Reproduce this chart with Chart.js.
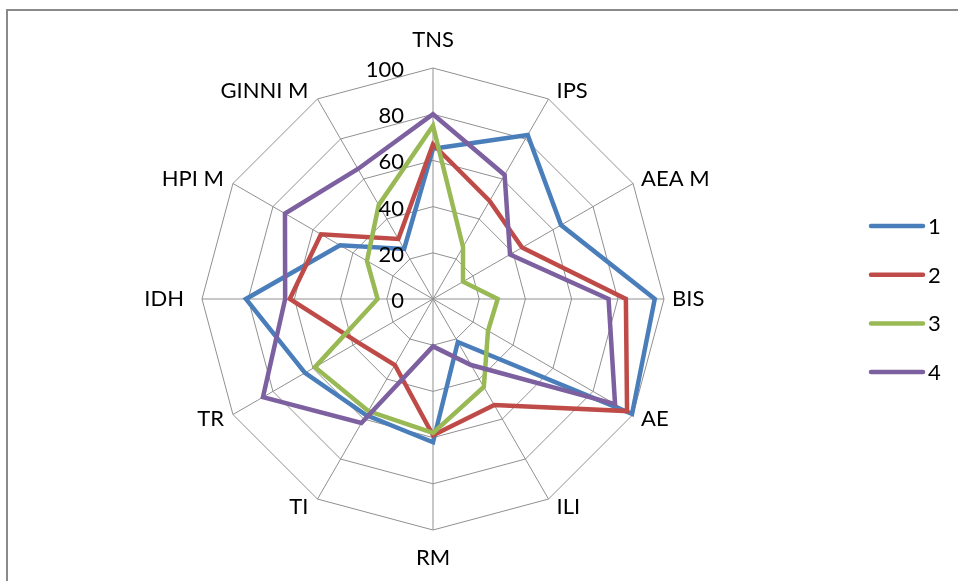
<!DOCTYPE html>
<html>
<head>
<meta charset="utf-8">
<script src="https://cdn.jsdelivr.net/npm/chart.js@4"></script>
<style>
  body { margin: 0; background: #fff; }
  #wrap { position: relative; width: 958px; height: 581px; }
</style>
</head>
<body>
<div id="wrap"><canvas id="radarChart"></canvas></div>
<script>
const axisLabels = ['TNS', 'IPS', 'AEA M', 'BIS', 'AE', 'ILI', 'RM', 'TI', 'TR', 'IDH', 'HPI M', 'GINNI M']
const seriesNames = ['1', '2', '3', '4']
const series1 = [65, 82, 64, 96, 99.5, 21.5, 62, 58, 64, 81, 46.5, 25]
const series2 = [67, 49, 44.5, 83.5, 97, 53, 59, 33, 37.5, 62, 56, 30]
const series3 = [75, 26, 15, 28, 27.5, 44, 58, 56, 59, 24, 33, 47]
const series4 = [80, 62, 38.5, 76, 91, 33, 20.5, 62, 85, 64, 74, 65]
const tickValues = [0, 20, 40, 60, 80, 100]

const colors = ['#4A7EBB', '#BE4B48', '#98B954', '#7D60A0']
const FONT = '22px Lato, "Open Sans", sans-serif'

// excel-ish labels, frame and legend drawn by hand
const excelBits = {
    id: 'excelBits',
    beforeDraw(chart) {
        const ctx = chart.ctx
        ctx.save()
        ctx.strokeStyle = '#8a8a8a'
        ctx.lineWidth = 2
        ctx.beginPath()
        ctx.moveTo(7, 600)
        ctx.lineTo(7, 10)
        ctx.lineTo(980, 10)
        ctx.stroke()
        ctx.restore()
    },
    afterDraw(chart) {
        const ctx = chart.ctx
        const r = chart.scales.r
        ctx.save()
        ctx.font = FONT
        ctx.fillStyle = '#000'
        ctx.textBaseline = 'middle'

        axisLabels.forEach((txt, i) => {
            const a = r.getIndexAngle(i)
            const s = Math.sin(a), c = Math.cos(a)
            let x, y
            if (Math.abs(s) < 0.01) {
                const p = r.getPointPosition(i, r.drawingArea + 28)
                x = p.x; y = p.y
                ctx.textAlign = 'center'
            } else {
                const p = r.getPointPosition(i, r.drawingArea)
                let gap = s > 0 ? 8 : -9
                if (s < -0.99) gap = -18
                x = p.x + gap
                y = p.y - c * 9
                ctx.textAlign = s > 0 ? 'left' : 'right'
            }
            ctx.fillText(txt, x, y)
        })

        ctx.textAlign = 'right'
        for (const v of tickValues) {
            const p = r.getPointPositionForValue(0, v)
            ctx.fillText(String(v), p.x - 29, p.y + 2)
        }

        // legend
        ctx.textAlign = 'left'
        ctx.lineCap = 'round'
        ctx.lineWidth = 4.5
        chart.data.datasets.forEach((ds, i) => {
            const y = 226 + i * 48.7
            ctx.strokeStyle = ds.borderColor
            ctx.beginPath()
            ctx.moveTo(871, y)
            ctx.lineTo(923, y)
            ctx.stroke()
            ctx.fillText(ds.label, 928, y + 1)
        })
        ctx.restore()
    }
}

const allSeries = [series1, series2, series3, series4]

const ctx = document.getElementById('radarChart').getContext('2d')
const radarChart = new Chart(ctx, {
    type: 'radar',
    data: {
        labels: axisLabels,
        datasets: allSeries.map((vals, i) => ({
            label: seriesNames[i],
            data: vals,
            borderColor: colors[i],
            backgroundColor: 'transparent',
            borderWidth: 4.5,
            pointRadius: 0,
            fill: false,
            tension: 0,
            order: 4 - i
        }))
    },
    options: {
        responsive: true,
        maintainAspectRatio: false,
        animation: false,
        layout: { padding: { left: 202, top: 68, right: 294, bottom: 51 } },
        plugins: {
            legend: { display: false },
            tooltip: { enabled: false }
        },
        scales: {
            r: {
                min: 0,
                max: 100,
                ticks: { display: false, stepSize: 20 },
                pointLabels: { display: false },
                grid: { color: '#909090', lineWidth: 1 },
                angleLines: { color: '#909090', lineWidth: 1 }
            }
        }
    },
    plugins: [excelBits]
})
</script>
</body>
</html>
